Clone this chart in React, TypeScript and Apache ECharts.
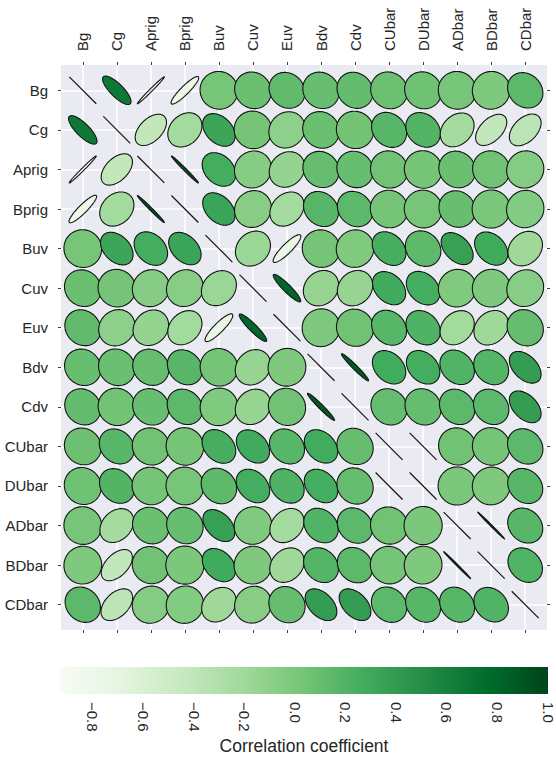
import React, { useEffect, useRef } from "react";
import * as echarts from "echarts";

// Variable names, in row/column order of the matrix
const variables = [
  "Bg", "Cg", "Aprig", "Bprig", "Buv", "Cuv", "Euv",
  "Bdv", "Cdv", "CUbar", "DUbar", "ADbar", "BDbar", "CDbar",
];

// Upper-triangle correlation coefficients: each row holds r against the variables after it
const corrBg = [0.66, -0.93, -0.78, 0.02, 0.08, 0.12, 0.09, 0.11, 0.07, 0.06, 0.02, -0.02, 0.15];
const corrCg = [-0.41, -0.22, 0.32, 0.03, -0.1, 0.08, 0.04, 0.17, 0.19, -0.24, -0.42, -0.38];
const corrAprig = [0.93, 0.26, -0.06, -0.14, 0.1, 0.09, 0.05, 0.03, 0.08, 0.05, -0.05];
const corrBprig = [0.33, -0.07, -0.22, 0.17, 0.15, 0.03, 0.02, 0.09, 0.0, -0.04];
const corrBuv = [-0.17, -0.75, 0.03, -0.03, 0.25, 0.14, 0.36, 0.28, -0.2];
const corrCuv = [0.8, -0.15, -0.15, 0.28, 0.26, -0.03, -0.02, -0.07];
const corrEuv = [-0.02, 0.05, 0.17, 0.21, -0.22, -0.2, 0.1];
const corrBdv = [0.88, 0.27, 0.26, 0.2, 0.18, 0.38];
const corrCdv = [0.1, 0.1, 0.15, 0.15, 0.38];
const corrCUbar = [0.99, 0.05, 0.03, 0.15];
const corrDUbar = [0.0, -0.02, 0.17];
const corrADbar = [0.96, 0.17];
const corrBDbar = [0.2];

const colorbarTicks = [-0.8, -0.6, -0.4, -0.2, 0.0, 0.2, 0.4, 0.6, 0.8, 1.0];

// ColorBrewer "Greens" ramp
const greens = [
  "#f7fcf5", "#e5f5e0", "#c7e9c0", "#a1d99b", "#74c476",
  "#41ab5d", "#238b45", "#006d2c", "#00441b",
];

const upperRows = [
  corrBg, corrCg, corrAprig, corrBprig, corrBuv, corrCuv, corrEuv,
  corrBdv, corrCdv, corrCUbar, corrDUbar, corrADbar, corrBDbar,
];

// Full symmetric matrix with ones on the diagonal
const n = variables.length;
const matrix: number[][] = Array.from({ length: n }, (_, i) =>
  Array.from({ length: n }, (_, j) => {
    if (i === j) return 1;
    const a = Math.min(i, j);
    const b = Math.max(i, j);
    return upperRows[a][b - a - 1];
  })
);

const cells: number[][] = [];
matrix.forEach((row, i) => row.forEach((r, j) => cells.push([j, i, r])));

const vmin = Math.min(...cells.map((c) => c[2]));
const vmax = Math.max(...cells.map((c) => c[2]));

function hexToRgb(h: string) {
  return [1, 3, 5].map((k) => parseInt(h.slice(k, k + 2), 16));
}

function greensColor(r: number) {
  let t = (r - vmin) / (vmax - vmin);
  t = Math.max(0, Math.min(1, t));
  const pos = t * (greens.length - 1);
  const k = Math.min(Math.floor(pos), greens.length - 2);
  const f = pos - k;
  const c0 = hexToRgb(greens[k]);
  const c1 = hexToRgb(greens[k + 1]);
  const c = c0.map((v, i) => Math.round(v + (c1[i] - v) * f));
  return `rgb(${c[0]},${c[1]},${c[2]})`;
}

const indices = variables.map((_, i) => i);
const LO = -0.64;
const HI = n - 1 + 0.64;
const FONT = '"Liberation Sans", Arial, Helvetica, sans-serif';
const TEXT = "#262626";
const EDGE = "#141414";

export default function App() {
  const ref = useRef<HTMLDivElement>(null);

  useEffect(() => {
    if (!ref.current) return;
    const chart = echarts.init(ref.current, undefined, { renderer: "svg" });

    const tickOnly = {
      show: true,
      length: 3,
      customValues: indices,
      lineStyle: { color: "#3a3a3a", width: 1 },
    };
    const noLine = { show: false, onZero: false };

    const option: any = {
      animation: false,
      backgroundColor: "#ffffff",
      textStyle: { fontFamily: FONT, color: TEXT },
      grid: [
        {
          left: 61, top: 65, width: 486, height: 565,
          show: true, backgroundColor: "#EAEAF2", borderWidth: 0,
        },
        { left: 60, top: 667, width: 488, height: 27 },
      ],
      xAxis: [
        {
          gridIndex: 0, type: "value", position: "top", min: LO, max: HI,
          axisLine: noLine,
          axisTick: tickOnly,
          axisLabel: {
            customValues: indices, rotate: -90, margin: 14,
            fontSize: 15, color: TEXT, fontFamily: FONT,
            formatter: (v: number) => variables[Math.round(v)],
          },
          splitLine: { show: true, lineStyle: { color: "#ffffff", width: 1.5 } },
        },
        {
          gridIndex: 0, type: "value", position: "bottom", min: LO, max: HI,
          axisLine: noLine, axisTick: tickOnly,
          axisLabel: { show: false }, splitLine: { show: false },
        },
        {
          gridIndex: 1, type: "value", position: "bottom", min: vmin, max: vmax,
          axisLine: noLine, axisTick: { show: false },
          splitLine: { show: false },
          axisLabel: {
            customValues: colorbarTicks, rotate: -90, margin: 8,
            fontSize: 15, color: TEXT, fontFamily: FONT,
            formatter: (v: number) => (v < 0 ? "\u2212" : "") + Math.abs(v).toFixed(1),
          },
          name: "Correlation coefficient", nameLocation: "middle", nameGap: 43,
          nameTextStyle: { fontSize: 17.5, color: TEXT, fontFamily: FONT },
        },
      ],
      yAxis: [
        {
          gridIndex: 0, type: "value", inverse: true, position: "left", min: LO, max: HI,
          axisLine: noLine,
          axisTick: tickOnly,
          axisLabel: {
            customValues: indices, margin: 13,
            fontSize: 15, color: TEXT, fontFamily: FONT,
            formatter: (v: number) => variables[Math.round(v)],
          },
          splitLine: { show: true, lineStyle: { color: "#ffffff", width: 1.5 } },
        },
        {
          gridIndex: 0, type: "value", inverse: true, position: "right", min: LO, max: HI,
          axisLine: noLine, axisTick: tickOnly,
          axisLabel: { show: false }, splitLine: { show: false },
        },
        { gridIndex: 1, type: "value", min: 0, max: 1, show: false, axisLine: noLine },
      ],
      series: [
        {
          type: "custom",
          xAxisIndex: 0,
          yAxisIndex: 0,
          silent: true,
          data: cells,
          renderItem: (_params: any, api: any) => {
            const col = api.value(0);
            const row = api.value(1);
            const r = api.value(2);
            const [cx, cy] = api.coord([col, row]);
            const cellW = api.size([1, 1])[0];
            const a = cellW * 0.56;
            const b = a * (1 - Math.abs(r));
            const s = Math.SQRT1_2;
            // positive r leans "\" on screen, negative r leans "/"
            const dx = s;
            const dy = r >= 0 ? s : -s;
            if (b < 0.6) {
              // a (near-)perfect correlation collapses the ellipse to a segment
              return {
                type: "line",
                shape: { x1: cx - a * dx, y1: cy - a * dy, x2: cx + a * dx, y2: cy + a * dy },
                style: { stroke: EDGE, lineWidth: 1.2 },
              };
            }
            const px = -dy;
            const py = dx;
            const pts: number[][] = [];
            const steps = 90;
            for (let k = 0; k < steps; k++) {
              const t = (k / steps) * Math.PI * 2;
              const u = a * Math.cos(t);
              const v = b * Math.sin(t);
              pts.push([cx + u * dx + v * px, cy + u * dy + v * py]);
            }
            return {
              type: "polygon",
              shape: { points: pts },
              style: { fill: greensColor(r), stroke: EDGE, lineWidth: 1.1, lineJoin: "round" },
            };
          },
        },
        {
          type: "custom",
          xAxisIndex: 2,
          yAxisIndex: 2,
          silent: true,
          data: [[vmin, vmax]],
          renderItem: (_params: any, api: any) => {
            const p0 = api.coord([api.value(0), 1]);
            const p1 = api.coord([api.value(1), 0]);
            return {
              type: "rect",
              shape: { x: p0[0], y: p0[1], width: p1[0] - p0[0], height: p1[1] - p0[1] },
              style: {
                fill: new echarts.graphic.LinearGradient(
                  0, 0, 1, 0,
                  greens.map((c, i) => ({ offset: i / (greens.length - 1), color: c }))
                ),
              },
            };
          },
        },
      ],
    };

    chart.setOption(option);
    return () => chart.dispose();
  }, []);

  return (
    <div
      ref={ref}
      style={{ position: "absolute", left: 0, top: 0, width: 556, height: 757 }}
    />
  );
}
